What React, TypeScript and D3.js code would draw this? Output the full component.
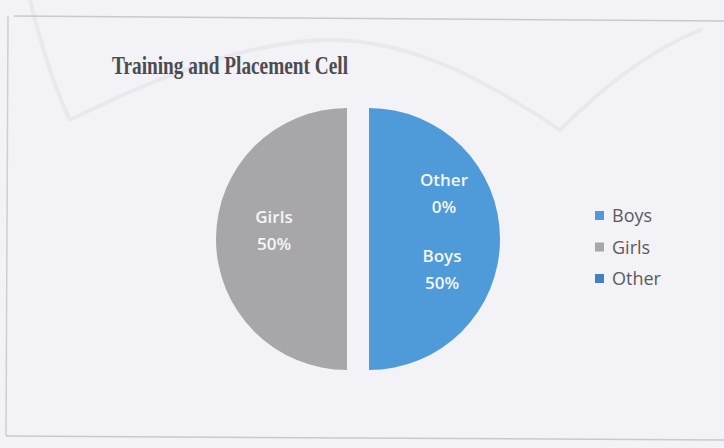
import React from "react";
import * as d3 from "d3";

const categories = ["Boys", "Girls", "Other"];
const values = [50, 50, 0];
const percentLabels = ["50%", "50%", "0%"];
const title = "Training and Placement Cell";

const W = 724;
const H = 448;
const colors: Record<string, string> = { Boys: "#4f9ad8", Girls: "#a7a7a9", Other: "#3f80c6" };

export default function App() {
  const cx = 358;
  const cy = 239;
  const r = 131;
  const explode = 11;
  const pie = d3.pie<number>().sort(null).value((d) => d);
  const arcs = pie(values);
  const arcGen = d3.arc<d3.PieArcDatum<number>>().innerRadius(0).outerRadius(r);
  const labelArc = d3.arc<d3.PieArcDatum<number>>().innerRadius(82).outerRadius(82);
  // label nudges (Excel moved overlapping labels)
  const labelNudge: Record<string, [number, number]> = {
    Boys: [2, 23],
    Girls: [-2, -16],
    Other: [86, 29],
  };
  return (
    <svg width={W} height={H} style={{ position: "absolute", left: 0, top: 0 }}>
      <rect x={0} y={0} width={W} height={H} fill="#f3f2f6" />
      <g fill="none" stroke="#e9e8ed" strokeWidth={4} strokeLinecap="round">
        <path d="M30 0 C40 40, 55 90, 70 120" />
        <path d="M70 120 C150 80, 250 40, 330 40 C420 40, 500 90, 560 130" />
        <path d="M560 130 C600 90, 650 50, 700 30" />
      </g>
      <path d="M14 16 L724 21" stroke="#c9c8cd" strokeWidth={1.5} fill="none" />
      <path d="M8 16 L6 436" stroke="#cfced3" strokeWidth={1.5} fill="none" />
      <path d="M6 436 L350 438 L724 440" stroke="#c9c8cd" strokeWidth={1.5} fill="none" />
      <text
        x={112}
        y={74}
        fontFamily="'Liberation Serif', 'DejaVu Serif', serif"
        fontWeight="bold"
        fontSize={26}
        fill="#4c4c50"
        textLength={236}
        lengthAdjust="spacingAndGlyphs"
      >
        {title}
      </text>
      {arcs.map((a, i) => {
        const mid = (a.startAngle + a.endAngle) / 2;
        const dx = Math.sin(mid) * explode;
        const dy = -Math.cos(mid) * explode;
        return (
          <path
            key={categories[i]}
            d={arcGen(a) || ""}
            transform={`translate(${cx + dx},${cy + dy})`}
            fill={colors[categories[i]]}
          />
        );
      })}
      {arcs.map((a, i) => {
        const [lx, ly] = labelArc.centroid(a);
        const n = labelNudge[categories[i]];
        const x = cx + lx + n[0];
        const y = cy + ly + n[1];
        return (
          <text
            key={"l" + categories[i]}
            x={x}
            y={y}
            textAnchor="middle"
            fontFamily="'Open Sans', Lato, sans-serif"
            fontWeight="600"
            fontSize={17}
            fill="#f4f6fa"
          >
            <tspan x={x} dy={0}>{categories[i]}</tspan>
            <tspan x={x} dy={27}>{percentLabels[i]}</tspan>
          </text>
        );
      })}
      {categories.map((c, i) => (
        <g key={"lg" + c} transform={`translate(595,${222 + i * 31.5})`}>
          <rect x={0} y={-11} width={9} height={9} fill={colors[c]} />
          <text x={17} y={0} fontFamily="'Open Sans', Lato, sans-serif" fontSize={18} fill="#5a5a5e">
            {c}
          </text>
        </g>
      ))}
    </svg>
  );
}
